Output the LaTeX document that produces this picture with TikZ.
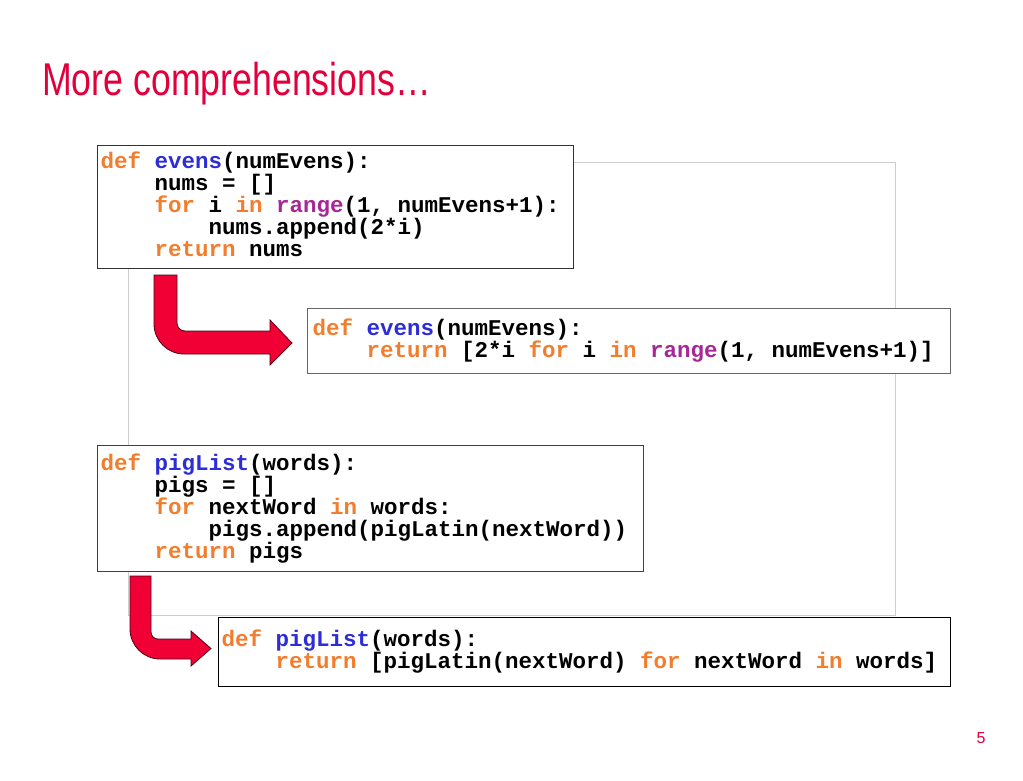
\documentclass[tikz,border=0pt]{standalone}
\usepackage{fontspec}
\setmainfont{Liberation Sans}
\newfontfamily\titlefont{Liberation Sans}[FakeStretch=0.776]
\newfontfamily\codeB{Liberation Mono}
\definecolor{titlec}{RGB}{226,0,60}
\definecolor{kwc}{RGB}{242,125,45}
\definecolor{fnc}{RGB}{45,45,215}
\definecolor{bic}{RGB}{165,40,150}
\definecolor{arrowc}{RGB}{240,0,52}
\definecolor{arrowline}{RGB}{80,0,20}
\definecolor{framec}{RGB}{205,205,205}
\newcommand\kw[1]{\textcolor{kwc}{#1}}
\newcommand\fn[1]{\textcolor{fnc}{#1}}
\newcommand\bi[1]{\textcolor{bic}{#1}}
\newcommand\ind[1]{\hspace*{#1\dimexpr 13.5pt\relax}}
\newcommand\s{\hspace*{13.5pt}}
\newcommand\deepstrut{\rule[-5pt]{0pt}{5pt}}
\protected\def\boldcodefont{\codeB\bfseries\fontsize{22.5pt}{22pt}\selectfont\lineskiplimit-50pt\relax}
\tikzset{
  codebox/.style={draw, fill=white, line width=1.3pt, anchor=north west,
    align=left, inner ysep=0pt, font=\boldcodefont},
  bentarrow/.style={fill=arrowc, draw=arrowline, line width=0.8pt, line join=miter},
}
\begin{document}
\begin{tikzpicture}[x=1pt,y=-1pt]
\useasboundingbox (0,0) rectangle (1023,780);
% title
\node[anchor=base west, inner sep=0pt, text=titlec,
  font=\titlefont\fontsize{46pt}{50pt}\selectfont] (title) at (42,95) {More comprehensions…};
% grey frame
\draw[framec, line width=1pt] (128,162) rectangle (895,615);
% box 1
\node[codebox, draw=black!80, inner xsep=3pt, text width=470pt,
  minimum height=123pt] (b1) at (97,145) {%
\kw{def}\s\fn{evens}(numEvens):\\
\ind{4}nums\s=\s[]\\
\ind{4}\kw{for}\s{}i\s\kw{in}\s\bi{range}(1,\s{}numEvens+1):\\
\ind{8}nums.append(2*i)\\
\ind{4}\kw{return}\s{}nums\deepstrut};
% box 2
\node[codebox, draw=black!60, inner xsep=5pt, text width=633pt,
  minimum height=65pt] (b2) at (307,308) {%
\kw{def}\s\fn{evens}(numEvens):\\
\ind{4}\kw{return}\s[2*i\s\kw{for}\s{}i\s\kw{in}\s\bi{range}(1,\s{}numEvens+1)]\deepstrut};
% box 3
\node[codebox, draw=black!75, inner xsep=3pt, text width=540pt,
  minimum height=126pt] (b3) at (97,445) {%
\kw{def}\s\fn{pigList}(words):\\
\ind{4}pigs\s=\s[]\\
\ind{4}\kw{for}\s{}nextWord\s\kw{in}\s{}words:\\
\ind{8}pigs.append(pigLatin(nextWord))\\
\ind{4}\kw{return}\s{}pigs};
% box 4
\node[codebox, draw=black, inner xsep=3pt, text width=726pt,
  minimum height=69pt] (b4) at (218,617) {%
\kw{def}\s\fn{pigList}(words):\\
\ind{4}\kw{return}\s[pigLatin(nextWord)\s\kw{for}\s{}nextWord\s\kw{in}\s{}words]\deepstrut};
% bent arrows
\path[bentarrow] (154,275) -- (154,324)
  .. controls (154,340.5) and (167.5,354) .. (184,354)
  -- (270,354) -- (270,365) -- (292,343) -- (270,320) -- (270,331)
  -- (185,331) .. controls (180.6,331) and (177,327.4) .. (177,323)
  -- (177,275) -- cycle;
\path[bentarrow] (130,576) -- (130,629)
  .. controls (130,645.5) and (143.5,659) .. (160,659)
  -- (191,659) -- (191,666) -- (211,648.5) -- (191,631) -- (191,639)
  -- (158,639) .. controls (154.1,639) and (151,635.9) .. (151,632)
  -- (151,576) -- cycle;
% page number
\node[anchor=center, inner sep=0pt, text=titlec,
  font=\fontsize{16pt}{18pt}\selectfont] (pagenum) at (981,738) {5};
\end{tikzpicture}
\end{document}
